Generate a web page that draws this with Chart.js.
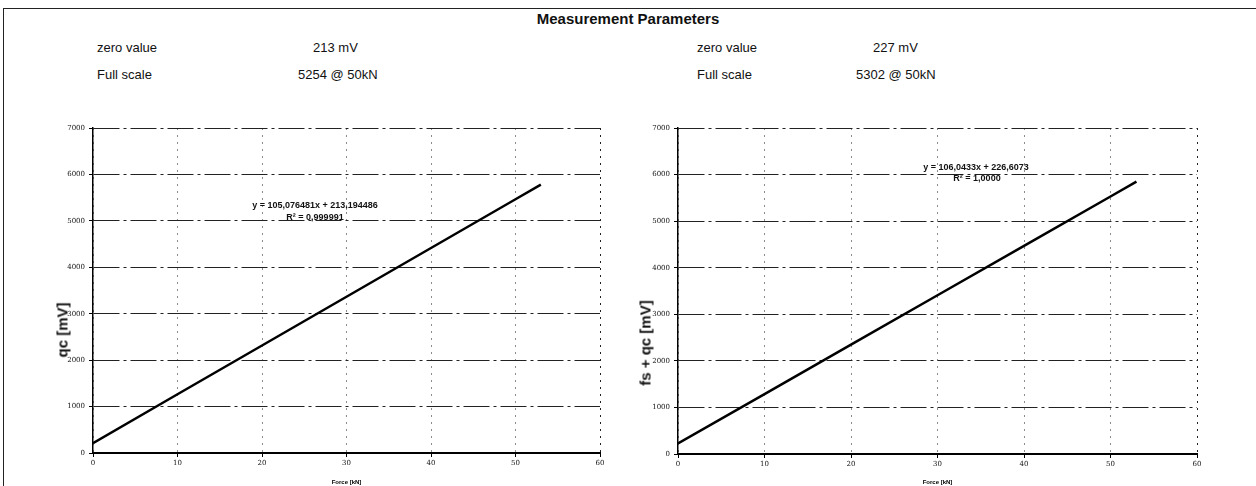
<!DOCTYPE html>
<html>
<head>
<meta charset="utf-8">
<script src="https://cdn.jsdelivr.net/npm/chart.js@4"></script>
<style>
  body { margin: 0; width: 1256px; height: 486px; background: #fff; position: relative; overflow: hidden; font-family: "Liberation Sans", Arial, sans-serif; color: #111; }
  .frame { position: absolute; left: 3px; top: 8px; width: 1300px; height: 500px; border-left: 1px solid #222; border-top: 1px solid #222; }
  .txt { position: absolute; font-size: 13px; white-space: nowrap; line-height: 1; }
  .title { position: absolute; left: 628px; top: 18px; transform: translate(-50%, -50%); font-weight: bold; font-size: 15px; white-space: nowrap; }
  .ytitle { position: absolute; font-weight: bold; font-size: 15px; white-space: nowrap; transform: translate(-50%, -50%) rotate(-90deg); }
  .eq { position: absolute; font-weight: bold; font-size: 9px; white-space: nowrap; transform: translate(-50%, -50%); }
  .box { position: absolute; top: 100px; width: 628px; height: 386px; }
</style>
</head>
<body>
<div class="frame"></div>
<div class="title">Measurement Parameters</div>

<div class="txt" style="left:97px; top:41px;">zero value</div>
<div class="txt" style="left:313px; top:41px;">213 mV</div>
<div class="txt" style="left:97px; top:68px;">Full scale</div>
<div class="txt" style="left:298px; top:68px;">5254 @ 50kN</div>

<div class="txt" style="left:697px; top:41px;">zero value</div>
<div class="txt" style="left:873px; top:41px;">227 mV</div>
<div class="txt" style="left:697px; top:68px;">Full scale</div>
<div class="txt" style="left:856px; top:68px;">5302 @ 50kN</div>

<div class="box" style="left:0px;"><canvas id="chartQc"></canvas></div>
<div class="box" style="left:628px;"><canvas id="chartFs"></canvas></div>

<div class="ytitle" style="left:62px; top:330px;">qc [mV]</div>
<div class="ytitle" style="left:645px; top:343px;">fs + qc [mV]</div>

<div class="eq" style="left:315px; top:205px;">y = 105,076481x + 213,194486</div>
<div class="eq" style="left:315px; top:217px;">R² = 0,999991</div>
<div class="eq" style="left:976px; top:167px;">y = 106,0433x + 226,6073</div>
<div class="eq" style="left:977px; top:178px;">R² = 1,0000</div>

<script>
// Force [kN]
const fuerza = [0, 10, 20, 30, 40, 50, 53];
// qc [mV]
const qcMv = [213, 1265, 2315, 3365, 4415, 5465, 5780];
// fs + qc [mV]
const fsQcMv = [227, 1287, 2348, 3408, 4469, 5529, 5847];

const yMin = 0, yMax = 7000, yStep = 1000;
const xMin = 0, xMax = 60, xStep = 10;

function crearGrafico(id, valores, ejeY, ejeX, padDer) {
    new Chart(document.getElementById(id), {
        type: 'line',
        data: {
            datasets: [{
                data: fuerza.map((f, i) => ({ x: f, y: valores[i] })),
                borderColor: '#000',
                borderWidth: 2.5,
                pointRadius: 0,
                tension: 0
            }]
        },
        options: {
            responsive: true,
            maintainAspectRatio: false,
            animation: false,
            layout: { padding: { left: 0, top: 28, right: padDer, bottom: 0 } },
            plugins: { legend: { display: false }, tooltip: { enabled: false } },
            scales: {
                x: {
                    type: 'linear',
                    min: xMin, max: xMax,
                    ticks: { stepSize: xStep, color: '#111', font: { size: 7, family: 'DejaVu Serif' }, padding: 2, maxRotation: 0 },
                    grid: {
                        color: c => c.tick && c.tick.value === xMax ? '#222' : 'rgba(0,0,0,0.45)',
                        tickColor: '#000', tickLength: 4
                    },
                    border: { color: '#000', width: 2, dash: [2, 5] },
                    title: { display: true, text: 'Force [kN]', font: { size: 6, weight: 'bold' }, color: '#000', padding: { top: 8, bottom: 0 } },
                    afterFit: s => { s.height = ejeX; s.paddingLeft = 0; s.paddingRight = 0; }
                },
                y: {
                    min: yMin, max: yMax,
                    ticks: { stepSize: yStep, color: '#111', font: { size: 7, family: 'DejaVu Serif' }, padding: 4, callback: v => v },
                    grid: { color: '#222', lineWidth: 1, tickColor: '#000', tickLength: 4 },
                    border: { color: '#000', width: 1.5, dash: [26, 4, 3, 4] },
                    afterFit: s => { s.width = ejeY; }
                }
            }
        }
    });
}

crearGrafico('chartQc', qcMv, 93, 33, 28);
crearGrafico('chartFs', fsQcMv, 50, 32, 59);
</script>
</body>
</html>
